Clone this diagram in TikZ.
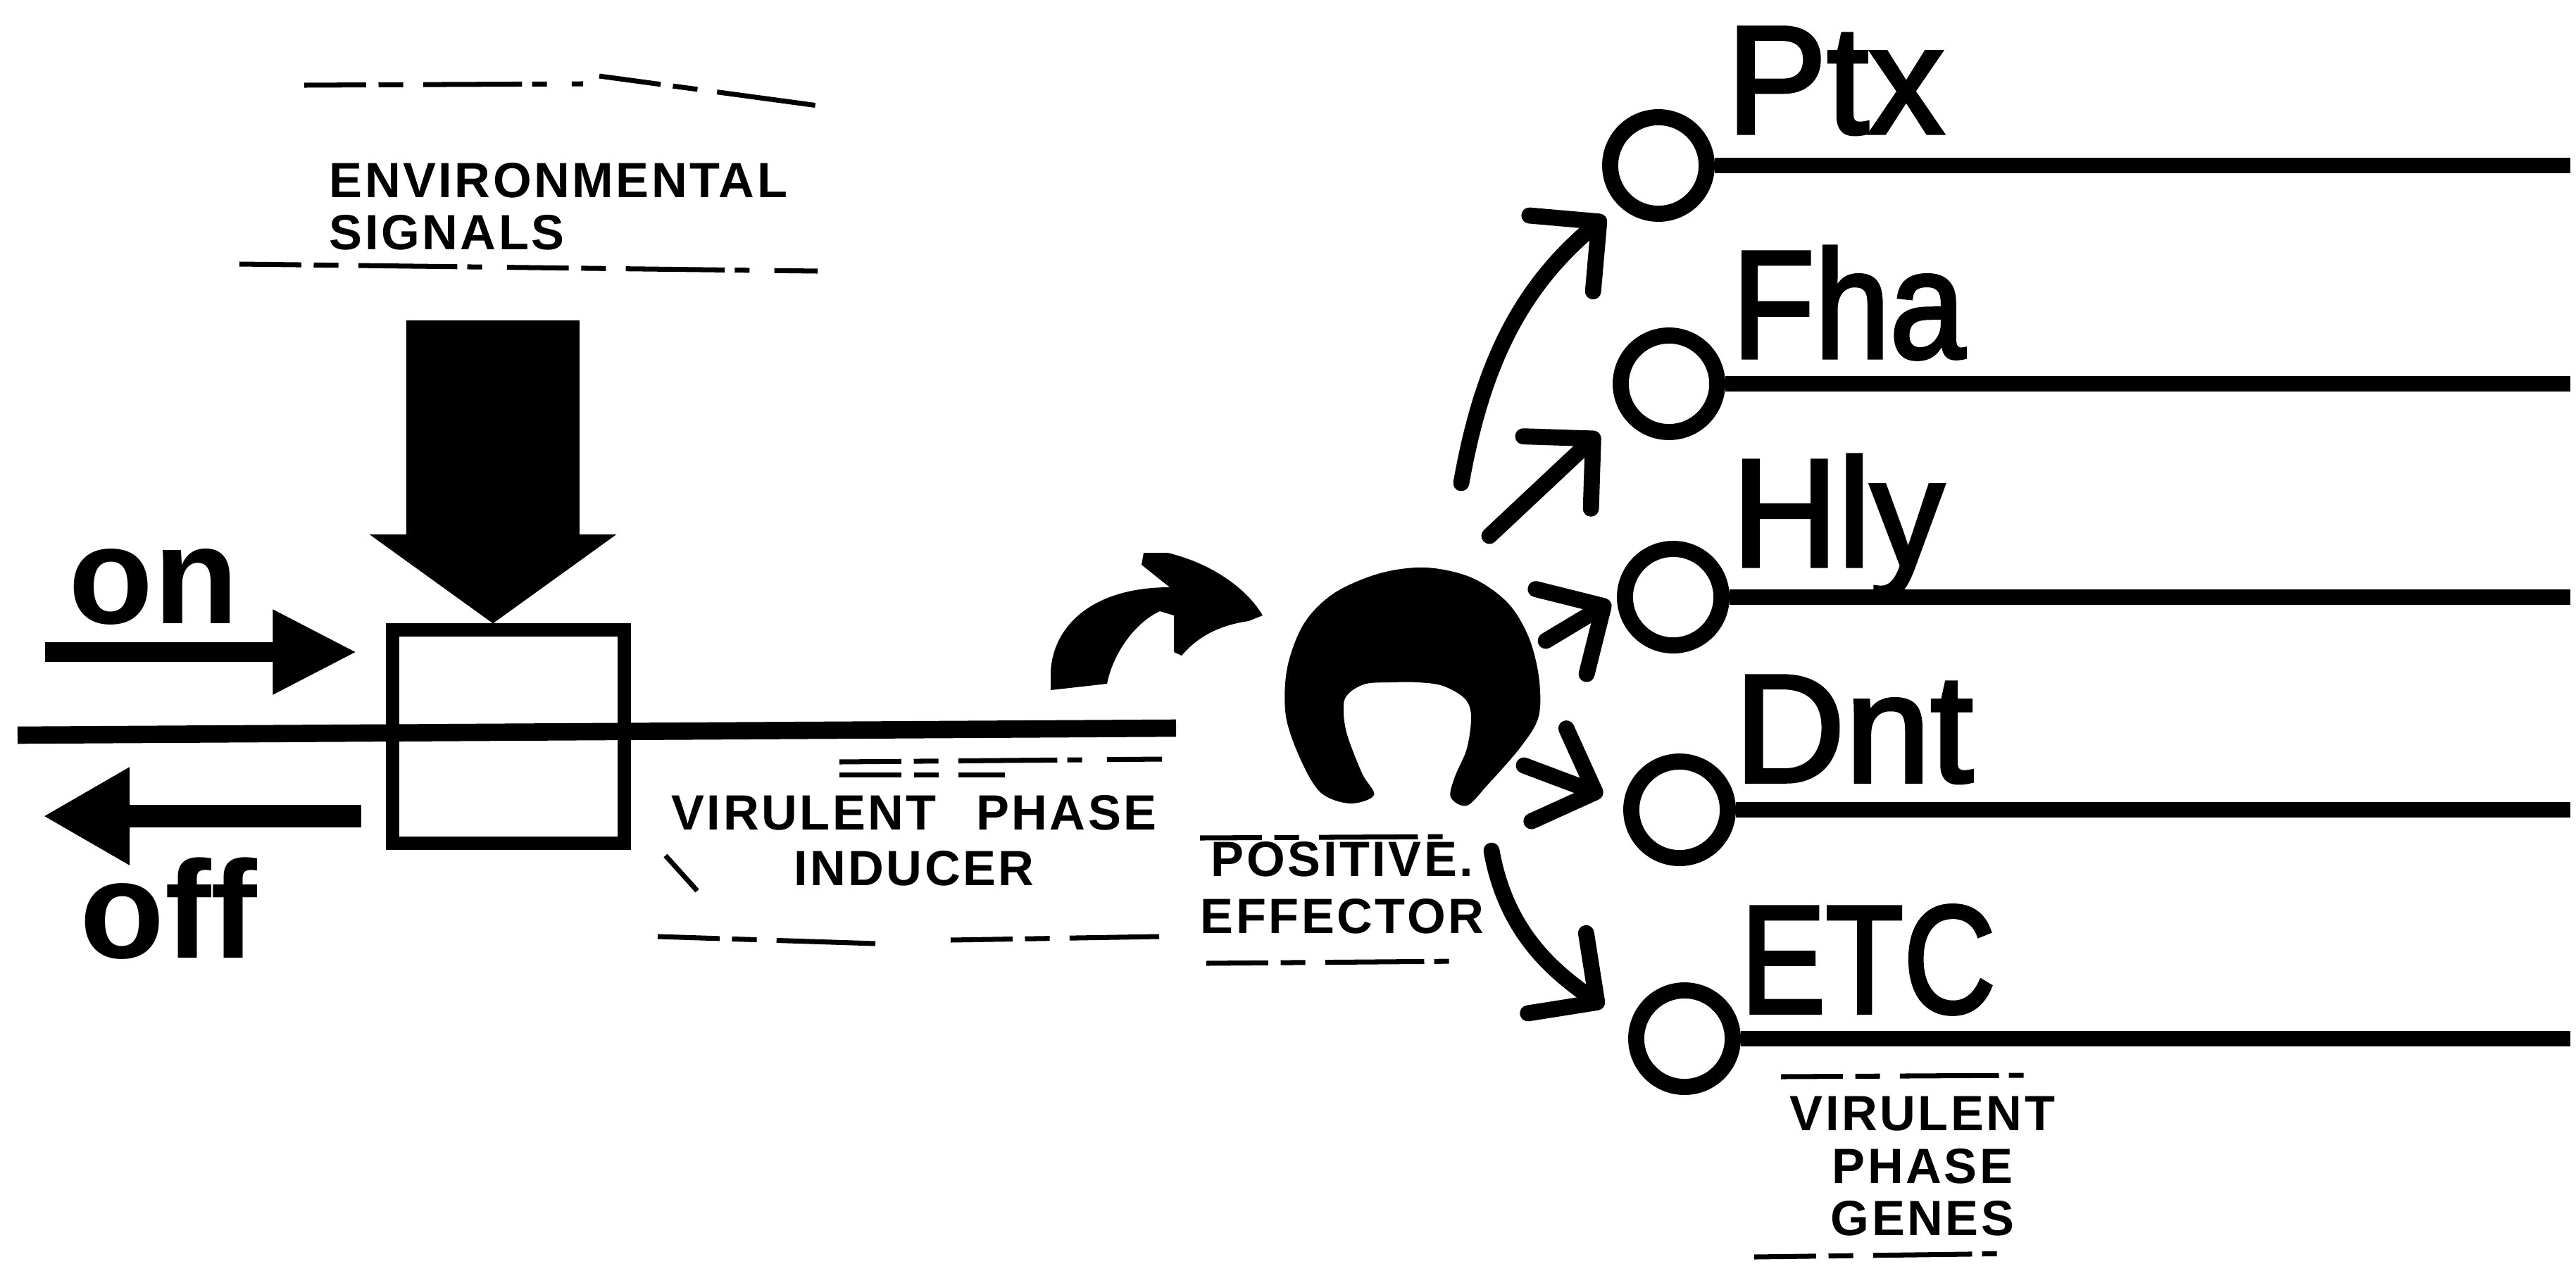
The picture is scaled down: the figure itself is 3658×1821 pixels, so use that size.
\documentclass[tikz,border=0pt]{standalone}
\usepackage{fontspec}
\setmainfont{Liberation Sans}
\newfontfamily\genefont{Liberation Sans}[FakeBold=2.5]
\newfontfamily\labfont{Liberation Sans}[LetterSpace=5]
\usetikzlibrary{arrows.meta}
\begin{document}
\begin{tikzpicture}[x=0.01cm, y=-0.01cm,
  gene/.style={circle, draw, line width=6.5pt, minimum size=1.37cm, inner sep=0pt},
  genelabel/.style={anchor=base west, inner sep=0pt, font=\genefont\fontsize{62}{62}\selectfont},
  gline/.style={line width=6.3pt},
  lab/.style={inner sep=0pt, font=\labfont\bfseries\fontsize{20}{22}\selectfont},
  onoff/.style={anchor=base west, inner sep=0pt, font=\bfseries\fontsize{56}{60}\selectfont},
  earrow/.style={line width=6.5pt, line cap=round, -{Straight Barb[length=20pt,width=40pt,round]}},
  noise/.style={line width=2pt, dash pattern=on 25pt off 5pt on 10pt off 8pt on 40pt off 4pt on 6pt off 10pt}
]
\useasboundingbox (0,0) rectangle (3658,1821);

% ---- DNA line and switch box
\coordinate (dnaL) at (25,1044);
\coordinate (dnaR) at (1670,1034);
\draw[line width=7pt] (dnaL) -- (dnaR);
\node[draw, line width=5.4pt, minimum width=3.28cm, minimum height=3.02cm, inner sep=0pt] (box) at (722,1046) {};

% ---- environmental signals
\node[lab, anchor=north west, align=left, font=\labfont\bfseries\fontsize{20}{21}\selectfont] (env) at (467,231) {ENVIRONMENTAL\\SIGNALS};
\coordinate (sigtop) at (700,455);
\draw[line width=70pt, -{Triangle[length=36pt,width=98pt]}] (sigtop) -- (box.north -| sigtop);

% ---- on / off
\node[onoff] (on) at (97,885) {on};
\node[onoff] (off) at (113,1360) {off};
\coordinate (onS) at (64,926);
\coordinate (onE) at (507,926);
\draw[line width=8pt, -{Triangle[length=34pt,width=32pt]}] (onS) -- (onE);
\coordinate (offS) at (513,1159);
\coordinate (offE) at (61,1159);
\draw[line width=9pt, -{Triangle[length=35pt,width=37pt]}] (offS) -- (offE);

% ---- virulent phase inducer
\node[lab, anchor=north, align=center, font=\labfont\bfseries\fontsize{20}{22.5}\selectfont] (vpi) at (1298,1129) {VIRULENT\hspace{0.8em}PHASE\\INDUCER};
\fill (1492,980) -- (1492,954) .. controls (1495,890) and (1550,834) .. (1661,834)
  -- (1621,802) -- (1624,785) -- (1658,785)
  .. controls (1720,800) and (1770,835) .. (1793,874)
  -- (1773,882) .. controls (1730,888) and (1700,905) .. (1678,931)
  -- (1667,926) -- (1667,874) -- (1647,868)
  .. controls (1610,885) and (1580,930) .. (1572,971) -- cycle;

% ---- positive effector
\coordinate (eff) at (2005,990);
\fill plot[smooth cycle, tension=0.55] coordinates {(1951,1129) (1917,1141) (1876,1126) (1848,1081) (1826,1017) (1828,948) (1852,885) (1895,842) (1960,814) (2025,806) (2089,820) (2140,855) (2170,903) (2185,960) (2185,1017) (2160,1060) (2112,1115) (2083,1144) (2060,1132) (2066,1103) (2083,1063) (2089,1017) (2080,992) (2049,974) (2014,969) (1974,969) (1940,971) (1917,983) (1908,1000) (1912,1040) (1934,1098)};
\node[lab, anchor=north, align=center, font=\labfont\bfseries\fontsize{20}{23}\selectfont] (pe) at (1906,1195) {POSITIVE.\\EFFECTOR};

% ---- genes
\node[gene] (ptx) at (2355,235) {};
\node[gene] (fha) at (2370,545) {};
\node[gene] (hly) at (2376,848) {};
\node[gene] (dnt) at (2385,1150) {};
\node[gene] (etc) at (2392,1475) {};
\coordinate (rend) at (3650,0);
\foreach \g in {ptx,fha,hly,dnt,etc} \draw[gline] (\g.east) -- (\g.east -| rend);

\node[genelabel] (ptxl) at (2451,189) {\scalebox{0.98}[1]{Ptx}};
\node[genelabel] (fhal) at (2459,508) {\scalebox{0.88}[1]{Fha}};
\node[genelabel] (hlyl) at (2459,804) {\scalebox{0.955}[1]{Hly}};
\node[genelabel] (dntl) at (2462,1110) {Dnt};
\node[genelabel] (etcl) at (2471,1438) {\scalebox{0.83}[1]{ETC}};

\node[lab, anchor=north, align=center, font=\labfont\bfseries\fontsize{20}{21.3}\selectfont] (vpg) at (2730,1556) {VIRULENT\\PHASE\\GENES};

% ---- effector arrows
\coordinate (t1) at (2075,686);
\coordinate (t2) at (2115,761);
\coordinate (t3) at (2195,910);
\coordinate (t4) at (2164,1087);
\coordinate (t5) at (2118,1208);
\draw[earrow, shorten >=7pt] (t1) to[out=80, in=220] (ptx.225);
\draw[earrow, shorten >=12pt] (t2) -- (fha.211);
\draw[earrow, shorten >=3pt] (t3) -- (hly.181);
\draw[earrow, shorten >=9pt] (t4) -- (dnt.173);
\draw[earrow, shorten >=13pt] (t5) to[out=-80, in=144] (etc.167);

% ---- edges of the pasted labels
\draw[noise] (432,121) -- (828,119);
\draw[noise] (851,108) -- (1161,150);
\draw[noise] (340,375) -- (1161,385);
\draw[noise] (1192,1082) -- (1650,1078);
\draw[noise] (1192,1100) -- (1427,1100);
\draw[noise] (934,1330) -- (1243,1340);
\draw[noise] (1350,1335) -- (1646,1330);
\draw[noise] (945,1215) -- (990,1265);
\draw[noise] (1704,1190) -- (2072,1188);
\draw[noise] (1713,1368) -- (2072,1365);
\draw[noise] (2529,1529) -- (2880,1527);
\draw[noise] (2491,1785) -- (2870,1780);
\end{tikzpicture}
\end{document}
